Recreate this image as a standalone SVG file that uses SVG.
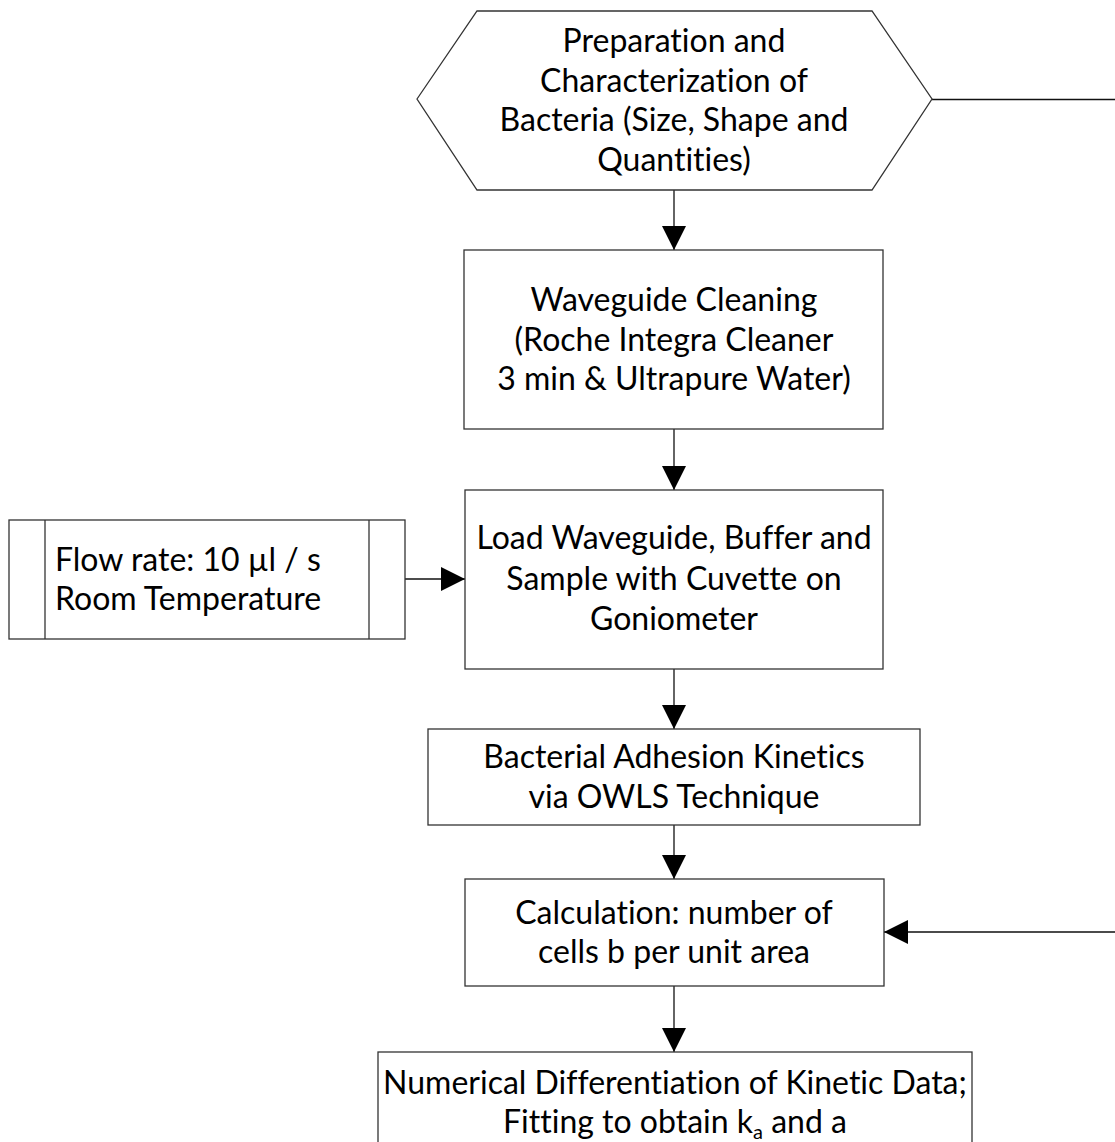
<svg xmlns="http://www.w3.org/2000/svg" width="1115" height="1142" viewBox="0 0 1115 1142">
<defs>
<style>
.box{fill:#fff;stroke:#333;stroke-width:1.3}
.t{font-family:Lato,"Open Sans","Liberation Sans",sans-serif;font-size:32px;fill:#000;text-anchor:middle;font-variant-ligatures:none}
.tl{font-family:Lato,"Open Sans","Liberation Sans",sans-serif;font-size:32px;fill:#000;font-variant-ligatures:none}
.c{fill:none;stroke:#111;stroke-width:1.3}
</style>
<marker id="ah" viewBox="0 0 24 24" refX="24" refY="12" markerWidth="24" markerHeight="24" markerUnits="userSpaceOnUse" orient="auto">
<path d="M0,0 L24,12 L0,24 Z" fill="#000"/>
</marker>
</defs>
<rect width="1115" height="1142" fill="#fff"/>
<g id="connectors">
<path class="c" d="M674,190 V250" marker-end="url(#ah)"/>
<path class="c" d="M674,429 V490" marker-end="url(#ah)"/>
<path class="c" d="M405,579 H465" marker-end="url(#ah)"/>
<path class="c" d="M674,669 V729" marker-end="url(#ah)"/>
<path class="c" d="M674,825 V879" marker-end="url(#ah)"/>
<path class="c" d="M674,986 V1052" marker-end="url(#ah)"/>
<path class="c" d="M932,99.5 H1130 V932 H884" marker-end="url(#ah)"/>
</g>
<g id="prep">
<polygon class="box" points="417,99 477,11 872,11 932,99 872,190 477,190"/>
<text class="t" x="674" y="52">Preparation and</text>
<text class="t" x="674" y="92">Characterization of</text>
<text class="t" x="674" y="131">Bacteria (Size, Shape and</text>
<text class="t" x="674" y="171">Quantities)</text>
</g>
<g id="cleaning">
<rect class="box" x="464" y="250" width="419" height="179"/>
<text class="t" x="674" y="311">Waveguide Cleaning</text>
<text class="t" x="674" y="351">(Roche Integra Cleaner</text>
<text class="t" x="674" y="390">3 min &amp; Ultrapure Water)</text>
</g>
<g id="load">
<rect class="box" x="465" y="490" width="418" height="179"/>
<text class="t" x="674" y="549">Load Waveguide, Buffer and</text>
<text class="t" x="674" y="590">Sample with Cuvette on</text>
<text class="t" x="674" y="630">Goniometer</text>
</g>
<g id="flow">
<rect class="box" x="9" y="520" width="396" height="119"/>
<line class="box" x1="45" y1="520" x2="45" y2="639"/>
<line class="box" x1="369" y1="520" x2="369" y2="639"/>
<text class="tl" x="55" y="571">Flow rate: 10 µl / s</text>
<text class="tl" x="55" y="610">Room Temperature</text>
</g>
<g id="adhesion">
<rect class="box" x="428" y="729" width="492" height="96"/>
<text class="t" x="674" y="768">Bacterial Adhesion Kinetics</text>
<text class="t" x="674" y="808">via OWLS Technique</text>
</g>
<g id="calc">
<rect class="box" x="465" y="879" width="419" height="107"/>
<text class="t" x="674" y="924">Calculation: number of</text>
<text class="t" x="674" y="963">cells b per unit area</text>
</g>
<g id="numerical">
<rect class="box" x="378" y="1052" width="594" height="120"/>
<text class="t" x="675" y="1094">Numerical Differentiation of Kinetic Data;</text>
<text class="t" x="675" y="1133">Fitting to obtain k<tspan font-size="20" dy="6">a</tspan><tspan dy="-6"> and a</tspan></text>
</g>
</svg>
